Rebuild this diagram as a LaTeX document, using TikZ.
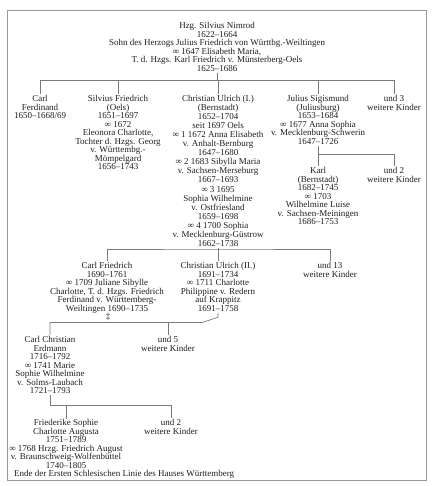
\documentclass[tikz,border=0pt]{standalone}
\usepackage{fontspec}
\setmainfont{Liberation Serif}
\usetikzlibrary{positioning, calc}
\definecolor{ink}{HTML}{1E1E1E}
\definecolor{rule}{HTML}{7A7A7A}
\definecolor{frame}{HTML}{9A9A9A}
\newcommand{\ftfont}{\fontsize{9}{8.5}\selectfont}
\tikzset{
  ftperson/.style = {align=center, anchor=north, inner xsep=1pt, inner ysep=1.5pt,
                     font=\ftfont, text=ink},
  ftwide/.style   = {ftperson, font=\fontsize{9}{9.05}\selectfont},
  ftline/.style   = {draw=rule, line width=0.7pt},
  ftframe/.style  = {draw=frame, line width=0.8pt},
}

\begin{document}
\begin{tikzpicture}[x=1pt, y=-1pt]
\useasboundingbox (0,0) rectangle (434,486);
\draw[ftframe] (7,10) rectangle (426,480);

% Stammvater
\node[ftperson] (sn) at (217,20.6)
  {Hzg. Silvius Nimrod\\1622–1664\\Sohn des Herzogs Julius Friedrich von Württbg.-Weiltingen\\
   ∞ 1647 Elisabeth Maria,\\T. d. Hzgs. Karl Friedrich v. Münsterberg-Oels\\1625–1686};

% Söhne
\node[ftperson] (cf1) at (40,93.6) {Carl\\Ferdinand\\1650–1668/69};
\node[ftperson] (sf) at (118,93.6)
  {Silvius Friedrich\\(Oels)\\1651–1697\\∞ 1672\\Eleonora Charlotte,\\Tochter d. Hzgs. Georg\\
   v. Württembg.-\\Mömpelgard\\1656–1743};
\node[ftwide] (cu1) at (218,93.6)
  {Christian Ulrich (I.)\\(Bernstadt)\\1652–1704\\seit 1697 Oels\\∞ 1 1672 Anna Elisabeth\\
   v. Anhalt-Bernburg\\1647–1680\\∞ 2 1683 Sibylla Maria\\v. Sachsen-Merseburg\\1667–1693\\
   ∞ 3 1695\\Sophia Wilhelmine\\v. Ostfriesland\\1659–1698\\∞ 4 1700 Sophia\\
   v. Mecklenburg-Güstrow\\1662–1738};
\node[ftperson] (js) at (318,93.6)
  {Julius Sigismund\\(Juliusburg)\\1653–1684\\∞ 1677 Anna Sophia\\v. Mecklenburg-Schwerin\\1647–1726};
\node[ftperson] (u3) at (394,93.6) {und 3\\weitere Kinder};

% Juliusburg
\node[ftperson] (karl) at (318,165.6)
  {Karl\\(Bernstadt)\\1682–1745\\∞ 1703\\Wilhelmine Luise\\v. Sachsen-Meiningen\\1686–1753};
\node[ftperson] (u2a) at (394,165.6) {und 2\\weitere Kinder};

% Bernstadt
\node[ftperson] (cfr) at (107,260.6)
  {Carl Friedrich\\1690–1761\\∞ 1709 Juliane Sibylle\\Charlotte, T. d. Hzgs. Friedrich\\
   Ferdinand v. Württemberg-\\Weiltingen 1690–1735};
\node[ftperson, anchor=center] (cfx) at (108,316.5) {‡};
\node[ftperson] (cu2) at (218,260.6)
  {Christian Ulrich (II.)\\1691–1734\\∞ 1711 Charlotte\\Philippine v. Redern\\auf Krappitz\\1691–1758};
\node[ftperson] (u13) at (330,260.6) {und 13\\weitere Kinder};

\node[ftperson] (cce) at (50,334.6)
  {Carl Christian\\Erdmann\\1716–1792\\∞ 1741 Marie\\Sophie Wilhelmine\\v. Solms-Laubach\\1721–1793};
\node[ftperson] (u5) at (168,334.6) {und 5\\weitere Kinder};

\node[ftperson, inner ysep=0.5pt] (fsc) at (66,418.6)
  {Friederike Sophie\\Charlotte Augusta\\1751–1789\\∞ 1768 Hrzg. Friedrich August\\
   v. Braunschweig-Wolfenbüttel\\1740–1805};
\node[ftperson] (u2b) at (171,417.6) {und 2\\weitere Kinder};
\node[ftperson, anchor=west, inner ysep=0.5pt] (ende) at (13,474)
  {Ende der Ersten Schlesischen Linie des Hauses Württemberg};

% Verbindungen
\coordinate (b1) at (217,80.5);
\coordinate (b2) at (318,154);
\coordinate (b3) at (218,249);
\coordinate (b4) at (202,322.5);
\coordinate (b5) at (50,405);

\draw[ftline] (sn.south) -- (b1);
\draw[ftline] (cf1.north) |- (b1) -| (u3.north);
\foreach \n in {sf,cu1,js}{\draw[ftline] (\n.north) -- (\n.north |- b1);}

\draw[ftline] (js.south) -- (karl.north);
\draw[ftline] (karl.north |- b2) -| (u2a.north);

\draw[ftline] (cu1.south) -- (cu1.south |- b3);
\draw[ftline] (cfr.north) |- (b3) -| (u13.north);
\draw[ftline] (cu2.north) -- (cu2.north |- b3);

\draw[ftline] (cu2.south) -- ++(0,4.5) -- (b4) -- (cce.north |- b4) -- (cce.north);
\draw[ftline] (u5.north) -- (u5.north |- b4);

\draw[ftline] (cce.south) -- (b5) -| (u2b.north);
\draw[ftline] (fsc.north) -- (fsc.north |- b5);
\end{tikzpicture}
\end{document}
